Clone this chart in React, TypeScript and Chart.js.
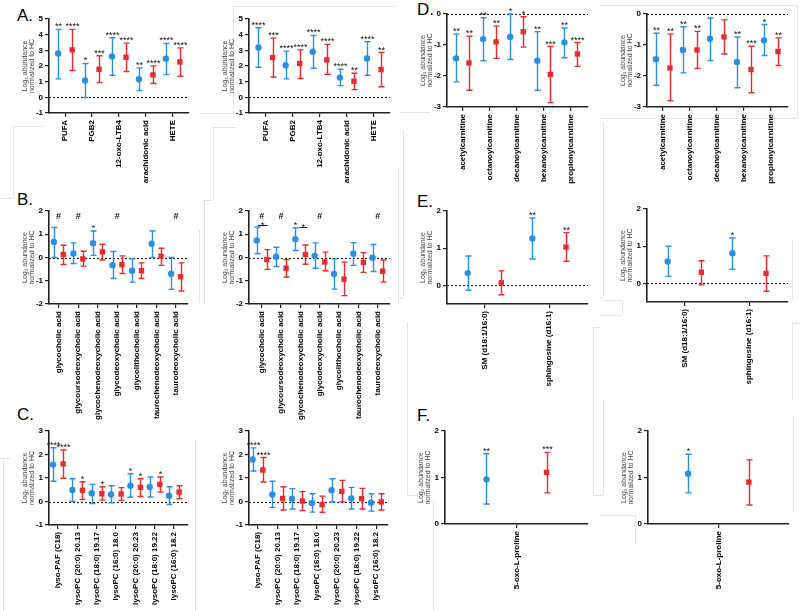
import React, { useEffect, useRef } from 'react';
import { Chart, registerables } from 'chart.js';
Chart.register(...registerables);

const BLUE = '#2a8fe8';
const RED = '#ea2a2e';
const FONT = 'Arial, "Liberation Sans", sans-serif';

// ---------- categories & ticks ----------
const catsA = ['PUFA', 'PGB2', '12-oxo-LTB4', 'arachidonic acid', 'HETE'];
const catsB = ['glycocholic acid', 'glycoursodeoxycholic acid', 'glycochenodeoxycholic acid', 'glycodeoxycholic acid', 'glycolithocholic acid', 'taurochenodeoxycholic acid', 'taurodeoxycholic acid'];
const catsC = ['lyso-PAF (C18)', 'lysoPC (20:0) 20.13', 'lysoPC (18:0) 19.17', 'lysoPC (16:0) 18.0', 'lysoPC (20:0) 20.23', 'lysoPC (18:0) 19.22', 'lysoPC (16:0) 18.2'];
const catsD = ['acetylcarnitine', 'octanoylcarnitine', 'decanoylcarnitine', 'hexanoylcarnitine', 'propionylcarnitine'];
const catsE = ['SM (d18:1/16:0)', 'sphingosine (d16:1)'];
const catsF = ['5-oxo-L-proline'];

const yTicksA = [-1, 0, 1, 2, 3, 4, 5];
const yTicksB = [-2, -1, 0, 1, 2];
const yTicksC = [-1, 0, 1, 2, 3];
const yTicksD = [-3, -2, -1, 0];
const yTicksE = [0, 1, 2];
const yTicksF = [0, 1, 2];

const yTitle = ['Log\u2082 abundance', 'normalized to HC'];

// ---------- Panel A ----------
const a1BlueMean = [2.80, 1.07, 2.61, 1.15, 2.46];
const a1BlueLow = [1.18, -0.02, 1.41, 0.43, 1.45];
const a1BlueHigh = [4.34, 2.16, 3.80, 1.88, 3.44];
const a1BlueSig = ['**', '*', '****', '**', '****'];
const a1RedMean = [3.03, 1.79, 2.56, 1.43, 2.26];
const a1RedLow = [1.71, 0.94, 1.65, 0.88, 1.35];
const a1RedHigh = [4.34, 2.65, 3.46, 2.01, 3.16];
const a1RedSig = ['****', '***', '****', '****', '****'];

const a2BlueMean = [3.18, 2.05, 2.91, 1.26, 2.48];
const a2BlueLow = [1.92, 1.18, 1.86, 0.75, 1.41];
const a2BlueHigh = [4.44, 2.95, 3.95, 1.79, 3.55];
const a2BlueSig = ['****', '****', '****', '****', '****'];
const a2RedMean = [2.54, 2.16, 2.39, 1.03, 1.77];
const a2RedLow = [1.30, 1.20, 1.47, 0.49, 0.68];
const a2RedHigh = [3.78, 3.03, 3.38, 1.54, 2.86];
const a2RedSig = ['***', '****', '****', '**', '**'];

// ---------- Panel B ----------
const b1BlueMean = [0.67, 0.17, 0.61, -0.33, -0.57, 0.59, -0.70];
const b1BlueLow = [0.00, -0.26, 0.09, -0.90, -1.06, 0.00, -1.37];
const b1BlueHigh = [1.29, 0.63, 1.14, 0.26, -0.06, 1.14, 0.00];
const b1BlueSig = ['', '', '*', '', '', '', ''];
const b1RedMean = [0.13, -0.06, 0.24, -0.31, -0.57, 0.06, -0.83];
const b1RedLow = [-0.30, -0.37, -0.11, -0.69, -0.90, -0.34, -1.44];
const b1RedHigh = [0.53, 0.27, 0.57, 0.07, -0.23, 0.40, -0.23];
const b1RedSig = ['', '', '', '', '', '', ''];
const b1Hashes = [0, 1, 3, 6];

const b2BlueMean = [0.73, 0.03, 0.79, 0.07, -0.71, 0.16, -0.01];
const b2BlueLow = [0.16, -0.39, 0.30, -0.46, -1.36, -0.34, -0.60];
const b2BlueHigh = [1.31, 0.44, 1.27, 0.63, -0.06, 0.64, 0.56];
const b2BlueSig = ['', '', '*', '', '', '', ''];
const b2RedMean = [-0.09, -0.46, 0.13, -0.19, -0.93, -0.21, -0.59];
const b2RedLow = [-0.51, -0.84, -0.29, -0.57, -1.64, -0.64, -1.06];
const b2RedHigh = [0.34, -0.09, 0.54, 0.23, -0.20, 0.21, -0.11];
const b2RedSig = ['', '', '', '', '', '', ''];
const b2Hashes = [0, 1, 3, 6];
const b2BracketCats = [0, 2];
const b2BracketY = [1.39, 1.31];

// ---------- Panel C ----------
const c1BlueMean = [1.57, 0.49, 0.35, 0.30, 0.67, 0.62, 0.25];
const c1BlueLow = [0.86, 0.00, -0.09, -0.06, 0.18, 0.19, -0.13];
const c1BlueHigh = [2.29, 0.97, 0.73, 0.67, 1.18, 1.04, 0.63];
const c1BlueSig = ['****', '', '', '', '*', '', ''];
const c1RedMean = [1.60, 0.48, 0.33, 0.32, 0.60, 0.73, 0.40];
const c1RedLow = [0.99, 0.09, 0.06, 0.05, 0.21, 0.40, 0.12];
const c1RedHigh = [2.19, 0.84, 0.63, 0.59, 0.97, 1.04, 0.67];
const c1RedSig = ['****', '*', '*', '', '*', '*', ''];

const c2BlueMean = [1.79, 0.30, 0.12, -0.06, 0.48, 0.13, -0.05];
const c2BlueLow = [1.30, -0.25, -0.32, -0.45, -0.02, -0.32, -0.41];
const c2BlueHigh = [2.28, 0.86, 0.55, 0.33, 0.97, 0.60, 0.33];
const c2BlueSig = ['****', '', '', '', '', '', ''];
const c2RedMean = [1.34, 0.13, 0.02, -0.13, 0.43, 0.12, -0.02];
const c2RedLow = [0.83, -0.36, -0.38, -0.46, -0.02, -0.32, -0.36];
const c2RedHigh = [1.87, 0.63, 0.42, 0.23, 0.90, 0.56, 0.33];
const c2RedSig = ['****', '', '', '', '', '', ''];

// ---------- Panel D ----------
const d1BlueMean = [-1.43, -0.81, -0.74, -1.51, -0.92];
const d1BlueLow = [-2.19, -1.51, -1.47, -2.46, -1.41];
const d1BlueHigh = [-0.65, -0.12, 0.00, -0.57, -0.45];
const d1BlueSig = ['**', '**', '*', '**', '**'];
const d1RedMean = [-1.58, -0.90, -0.57, -1.95, -1.29];
const d1RedLow = [-2.46, -1.43, -1.07, -2.86, -1.69];
const d1RedHigh = [-0.72, -0.39, -0.09, -1.05, -0.92];
const d1RedSig = ['**', '**', '*', '***', '****'];

const d2BlueMean = [-1.46, -1.16, -0.80, -1.55, -0.85];
const d2BlueLow = [-2.30, -1.90, -1.50, -2.38, -1.34];
const d2BlueHigh = [-0.62, -0.41, -0.13, -0.74, -0.34];
const d2BlueSig = ['**', '**', '', '**', '*'];
const d2RedMean = [-1.74, -1.16, -0.74, -1.79, -1.21];
const d2RedLow = [-2.80, -1.76, -1.29, -2.54, -1.66];
const d2RedHigh = [-0.65, -0.56, -0.19, -1.04, -0.77];
const d2RedSig = ['**', '**', '', '***', '**'];

// ---------- Panel E ----------
const e1BlueMean = [0.33, 1.26];
const e1BlueLow = [-0.13, 0.71];
const e1BlueHigh = [0.79, 1.81];
const e1BlueSig = ['', '**'];
const e1RedMean = [0.07, 1.03];
const e1RedLow = [-0.25, 0.65];
const e1RedHigh = [0.39, 1.42];
const e1RedSig = ['', '**'];

const e2BlueMean = [0.59, 0.81];
const e2BlueLow = [0.19, 0.38];
const e2BlueHigh = [1.00, 1.22];
const e2BlueSig = ['', '*'];
const e2RedMean = [0.30, 0.27];
const e2RedLow = [-0.04, -0.21];
const e2RedHigh = [0.61, 0.74];
const e2RedSig = ['', ''];

// ---------- Panel F ----------
const f1BlueMean = [0.96];
const f1BlueLow = [0.43];
const f1BlueHigh = [1.51];
const f1BlueSig = ['**'];
const f1RedMean = [1.11];
const f1RedLow = [0.67];
const f1RedHigh = [1.54];
const f1RedSig = ['***'];

const f2BlueMean = [1.08];
const f2BlueLow = [0.67];
const f2BlueHigh = [1.50];
const f2BlueSig = ['*'];
const f2RedMean = [0.90];
const f2RedLow = [0.41];
const f2RedHigh = [1.38];
const f2RedSig = [''];

type Series = { mean: number[]; low: number[]; high: number[]; sig: string[] };
type Bracket = { cat: number; y: number; x1: number; x2: number; text: string };
type Panel = {
  id: string;
  L: number; R: number; T: number; B: number; xh: number;
  xMin: number; xMax: number; yMin: number; yMax: number; yTicks: number[];
  cats: string[]; off: number;
  blue: Series; red: Series;
  zeroLine: boolean;
  hashes?: number[]; hashY?: number;
  brackets?: Bracket[];
};

const S = (mean: number[], low: number[], high: number[], sig: string[]): Series => ({ mean, low, high, sig });

const panels: Panel[] = [
  { id: 'A1', L: 49, R: 189, T: 19, B: 113, xh: 110, xMin: -0.6, xMax: 4.6, yMin: -1, yMax: 5, yTicks: yTicksA, cats: catsA, off: 0.26,
    blue: S(a1BlueMean, a1BlueLow, a1BlueHigh, a1BlueSig), red: S(a1RedMean, a1RedLow, a1RedHigh, a1RedSig), zeroLine: true },
  { id: 'A2', L: 249, R: 390, T: 19, B: 113, xh: 110, xMin: -0.61, xMax: 4.59, yMin: -1, yMax: 5, yTicks: yTicksA, cats: catsA, off: 0.26,
    blue: S(a2BlueMean, a2BlueLow, a2BlueHigh, a2BlueSig), red: S(a2RedMean, a2RedLow, a2RedHigh, a2RedSig), zeroLine: true },
  { id: 'B1', L: 49, R: 188, T: 211, B: 304, xh: 125, xMin: -0.49, xMax: 6.62, yMin: -2, yMax: 2, yTicks: yTicksB, cats: catsB, off: 0.24,
    blue: S(b1BlueMean, b1BlueLow, b1BlueHigh, b1BlueSig), red: S(b1RedMean, b1RedLow, b1RedHigh, b1RedSig), zeroLine: true,
    hashes: b1Hashes, hashY: 1.67 },
  { id: 'B2', L: 249, R: 390, T: 211, B: 304, xh: 125, xMin: -0.66, xMax: 6.64, yMin: -2, yMax: 2, yTicks: yTicksB, cats: catsB, off: 0.26,
    blue: S(b2BlueMean, b2BlueLow, b2BlueHigh, b2BlueSig), red: S(b2RedMean, b2RedLow, b2RedHigh, b2RedSig), zeroLine: true,
    hashes: b2Hashes, hashY: 1.67,
    brackets: [
      { cat: b2BracketCats[0], y: b2BracketY[0], x1: -0.2, x2: 0.3, text: '*' },
      { cat: b2BracketCats[1], y: b2BracketY[1], x1: -0.05, x2: 0.36, text: '*' },
    ] },
  { id: 'C1', L: 49, R: 188, T: 431, B: 525, xh: 86, xMin: -0.47, xMax: 6.72, yMin: -1, yMax: 3, yTicks: yTicksC, cats: catsC, off: 0.26,
    blue: S(c1BlueMean, c1BlueLow, c1BlueHigh, c1BlueSig), red: S(c1RedMean, c1RedLow, c1RedHigh, c1RedSig), zeroLine: true },
  { id: 'C2', L: 249, R: 388, T: 431, B: 525, xh: 86, xMin: -0.44, xMax: 6.6, yMin: -1, yMax: 3, yTicks: yTicksC, cats: catsC, off: 0.26,
    blue: S(c2BlueMean, c2BlueLow, c2BlueHigh, c2BlueSig), red: S(c2RedMean, c2RedLow, c2RedHigh, c2RedSig), zeroLine: true },
  { id: 'D1', L: 447, R: 588, T: 14, B: 107, xh: 110, xMin: -0.57, xMax: 4.63, yMin: -3, yMax: 0, yTicks: yTicksD, cats: catsD, off: 0.24,
    blue: S(d1BlueMean, d1BlueLow, d1BlueHigh, d1BlueSig), red: S(d1RedMean, d1RedLow, d1RedHigh, d1RedSig), zeroLine: true },
  { id: 'D2', L: 647, R: 788, T: 14, B: 107, xh: 110, xMin: -0.59, xMax: 4.63, yMin: -3, yMax: 0, yTicks: yTicksD, cats: catsD, off: 0.26,
    blue: S(d2BlueMean, d2BlueLow, d2BlueHigh, d2BlueSig), red: S(d2RedMean, d2RedLow, d2RedHigh, d2RedSig), zeroLine: true },
  { id: 'E1', L: 447, R: 588, T: 211, B: 304, xh: 110, xMin: -0.58, xMax: 1.6, yMin: -0.5, yMax: 2, yTicks: yTicksE, cats: catsE, off: 0.26,
    blue: S(e1BlueMean, e1BlueLow, e1BlueHigh, e1BlueSig), red: S(e1RedMean, e1RedLow, e1RedHigh, e1RedSig), zeroLine: true },
  { id: 'E2', L: 647, R: 788, T: 209, B: 302, xh: 110, xMin: -0.58, xMax: 1.6, yMin: -0.5, yMax: 2, yTicks: yTicksE, cats: catsE, off: 0.26,
    blue: S(e2BlueMean, e2BlueLow, e2BlueHigh, e2BlueSig), red: S(e2RedMean, e2RedLow, e2RedHigh, e2RedSig), zeroLine: true },
  { id: 'F1', L: 445, R: 588, T: 431, B: 524, xh: 86, xMin: -1, xMax: 1, yMin: 0, yMax: 2, yTicks: yTicksF, cats: catsF, off: 0.42,
    blue: S(f1BlueMean, f1BlueLow, f1BlueHigh, f1BlueSig), red: S(f1RedMean, f1RedLow, f1RedHigh, f1RedSig), zeroLine: false },
  { id: 'F2', L: 648, R: 789, T: 431, B: 524, xh: 86, xMin: -1, xMax: 1, yMin: 0, yMax: 2, yTicks: yTicksF, cats: catsF, off: 0.43,
    blue: S(f2BlueMean, f2BlueLow, f2BlueHigh, f2BlueSig), red: S(f2RedMean, f2RedLow, f2RedHigh, f2RedSig), zeroLine: false },
];

const panelLabels = [
  { text: 'A.', x: 17, base: 21 },
  { text: 'B.', x: 17, base: 205 },
  { text: 'C.', x: 17, base: 420 },
  { text: 'D.', x: 417, base: 15 },
  { text: 'E.', x: 417, base: 207 },
  { text: 'F.', x: 417, base: 421 },
];

// faint compositing frame lines seen in the figure background: [x1, y1, x2, y2]
const frameLines: number[][] = [
  [233, 6, 397, 6], [233, 6, 233, 113], [200, 113, 233, 113],
  [13, 126, 45, 126], [13, 126, 13, 198], [0, 198, 13, 198],
  [213, 127, 237, 127], [213, 127, 213, 200], [204, 200, 213, 200], [204, 200, 204, 303],
  [398, 170, 398, 303], [199, 230, 199, 303],
  [600, 5, 797, 5], [797, 5, 797, 118], [600, 118, 797, 118], [603, 122, 603, 200],
  [403, 130, 403, 200], [400, 112, 430, 112],
  [403, 200, 403, 298], [400, 298, 403, 298], [407, 322, 407, 400], [593, 327, 593, 400], [593, 327, 600, 327],
  [603, 200, 603, 297], [600, 297, 603, 297], [622, 300, 622, 315], [603, 300, 622, 300], [600, 315, 622, 315],
  [792, 323, 792, 400], [792, 323, 800, 323], [792, 240, 792, 300],
  [407, 400, 407, 495], [407, 495, 433, 495], [433, 500, 433, 611], [593, 400, 593, 495], [593, 495, 600, 495],
  [603, 400, 603, 495], [600, 495, 603, 495], [635, 515, 635, 543], [600, 515, 635, 515], [793, 417, 793, 513],
  [3, 458, 3, 611], [0, 458, 10, 458], [195, 440, 195, 611],
];

const PAD_TOP = 14;
const Y_W = 30;
const PAD_R = 4;

function points(s: Series, off: number) {
  return s.mean.map((m, i) => ({ x: i + off, y: m, lo: s.low[i], hi: s.high[i], sig: s.sig[i] }));
}

function makeDecor(p: Panel) {
  return {
    id: 'decor' + p.id,
    beforeDatasetsDraw(chart: any) {
      const { ctx, chartArea: ca, scales } = chart;
      const x = scales.x, y = scales.y;
      ctx.save();
      if (p.zeroLine) {
        const y0 = Math.round(y.getPixelForValue(0)) + 0.5;
        ctx.setLineDash([2, 2]);
        ctx.strokeStyle = '#222';
        ctx.lineWidth = 1.2;
        ctx.beginPath();
        ctx.moveTo(ca.left, y0);
        ctx.lineTo(ca.right, y0);
        ctx.stroke();
        ctx.setLineDash([]);
      }
      chart.data.datasets.forEach((ds: any) => {
        ctx.strokeStyle = ds.borderColor;
        ctx.lineWidth = 1.4;
        ds.data.forEach((d: any) => {
          const px = Math.round(x.getPixelForValue(d.x)) + 0.5;
          const ylo = y.getPixelForValue(d.lo);
          const yhi = y.getPixelForValue(d.hi);
          ctx.beginPath();
          ctx.moveTo(px, ylo); ctx.lineTo(px, yhi);
          ctx.moveTo(px - 3, ylo); ctx.lineTo(px + 3, ylo);
          ctx.moveTo(px - 3, yhi); ctx.lineTo(px + 3, yhi);
          ctx.stroke();
        });
      });
      ctx.restore();
    },
    afterDatasetsDraw(chart: any) {
      const { ctx, scales } = chart;
      const x = scales.x, y = scales.y;
      ctx.save();
      ctx.fillStyle = '#111';
      ctx.textAlign = 'center';
      ctx.textBaseline = 'alphabetic';
      ctx.font = '9px ' + FONT;
      chart.data.datasets.forEach((ds: any) => {
        ds.data.forEach((d: any) => {
          if (d.sig) ctx.fillText(d.sig, Math.round(x.getPixelForValue(d.x)) + 0.5, y.getPixelForValue(d.hi));
        });
      });
      (p.brackets || []).forEach((b) => {
        const x1 = x.getPixelForValue(b.cat + b.x1);
        const x2 = x.getPixelForValue(b.cat + b.x2);
        const py = Math.round(y.getPixelForValue(b.y)) + 0.5;
        ctx.strokeStyle = '#111';
        ctx.lineWidth = 1;
        ctx.beginPath();
        ctx.moveTo(x1, py); ctx.lineTo(x2, py);
        ctx.stroke();
        ctx.fillText(b.text, (x1 + x2) / 2, py + 2);
      });
      ctx.font = 'bold 9px ' + FONT;
      (p.hashes || []).forEach((c) => {
        ctx.fillText('#', x.getPixelForValue(c), y.getPixelForValue(p.hashY as number));
      });
      ctx.restore();
    },
  };
}

function PanelChart({ p }: { p: Panel }) {
  const ref = useRef<HTMLCanvasElement>(null);
  const w = p.R - p.L + Y_W + PAD_R;
  const h = PAD_TOP + (p.B - p.T) + p.xh;
  useEffect(() => {
    if (!ref.current) return;
    const axisCommon = {
      grid: { display: true, drawOnChartArea: false, drawTicks: true, tickLength: 4, color: '#222', lineWidth: 1.2 },
      border: { display: true, color: '#222', width: 1.6 },
    };
    const chart = new Chart(ref.current, {
      type: 'scatter',
      data: {
        datasets: [
          { data: points(p.blue, -p.off), backgroundColor: BLUE, borderColor: BLUE, pointStyle: 'circle', pointRadius: 3.2, pointHoverRadius: 3.2, pointBorderWidth: 0 },
          { data: points(p.red, p.off), backgroundColor: RED, borderColor: RED, pointStyle: 'rect', pointRadius: 3.8, pointHoverRadius: 3.8, pointBorderWidth: 0 },
        ],
      } as any,
      options: {
        animation: false,
        responsive: false,
        events: [],
        layout: { padding: { top: PAD_TOP, right: PAD_R, left: 0, bottom: 0 } },
        plugins: { legend: { display: false }, tooltip: { enabled: false } },
        scales: {
          x: {
            type: 'linear',
            min: p.xMin,
            max: p.xMax,
            afterBuildTicks: (s: any) => { s.ticks = p.cats.map((_, i) => ({ value: i })); },
            afterFit: (s: any) => { s.height = p.xh; },
            ticks: {
              autoSkip: false, minRotation: 90, maxRotation: 90, padding: 3,
              color: '#000', font: { family: FONT, size: 8, weight: 'bold' },
              callback: (v: any) => p.cats[Math.round(Number(v))] ?? '',
            },
            ...axisCommon,
          },
          y: {
            min: p.yMin,
            max: p.yMax,
            afterBuildTicks: (s: any) => { s.ticks = p.yTicks.map((v) => ({ value: v })); },
            afterFit: (s: any) => { s.width = Y_W; },
            ticks: { padding: 2, color: '#000', font: { family: FONT, size: 8, weight: 'bold' }, callback: (v: any) => String(v) },
            title: { display: true, text: yTitle, color: '#444', font: { family: FONT, size: 7, lineHeight: 1 }, padding: { top: 2.5, bottom: 0 } },
            ...axisCommon,
          },
        },
      } as any,
      plugins: [makeDecor(p)],
    });
    return () => chart.destroy();
  }, [p]);
  return (
    <canvas
      ref={ref}
      width={w}
      height={h}
      style={{ position: 'absolute', left: p.L - Y_W, top: p.T - PAD_TOP, width: w, height: h }}
    />
  );
}

export default function App() {
  return (
    <div style={{ position: 'absolute', left: 0, top: 0, width: 800, height: 611, overflow: 'hidden', background: '#fff' }}>
      {frameLines.map((s, i) => {
        const horiz = s[1] === s[3];
        return (
          <div
            key={'f' + i}
            style={{
              position: 'absolute',
              left: Math.min(s[0], s[2]),
              top: Math.min(s[1], s[3]),
              width: horiz ? Math.abs(s[2] - s[0]) : 1,
              height: horiz ? 1 : Math.abs(s[3] - s[1]),
              background: '#e6e6e6',
            }}
          />
        );
      })}
      {panelLabels.map((l) => (
        <div key={l.text} style={{ position: 'absolute', left: l.x, top: l.base - 14.4, fontFamily: FONT, fontSize: 17, lineHeight: '17px', color: '#000' }}>
          {l.text}
        </div>
      ))}
      {panels.map((p) => <PanelChart key={p.id} p={p} />)}
    </div>
  );
}
